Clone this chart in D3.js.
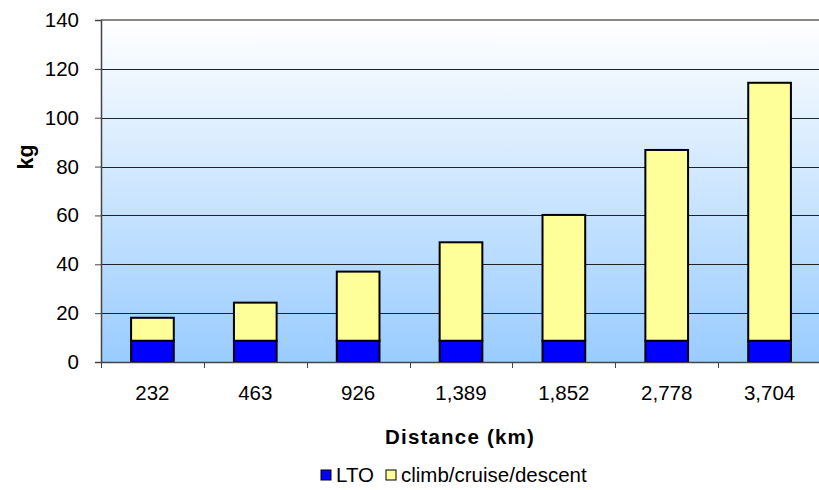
<!DOCTYPE html>
<html><head><meta charset="utf-8">
<script src="https://cdn.jsdelivr.net/npm/d3@7"></script>
<style>body{margin:0;background:#fff}svg{display:block;font-family:Arial,"Liberation Sans",sans-serif}</style>
</head><body><svg id="c" width="819" height="490"></svg>
<script>
const categories = ["232","463","926","1,389","1,852","2,778","3,704"];
const lto = [8.7, 8.7, 8.7, 8.7, 8.7, 8.7, 8.7];
const climb = [9.4, 15.6, 28.3, 40.3, 51.5, 78.1, 105.6];
const yTicks = [0,20,40,60,80,100,120,140];
const seriesNames = ["LTO","climb/cruise/descent"];
const colors = ["#0000ff","#ffff99"];

const svg = d3.select("#c");
const L = 101, R = 821, T = 20, B = 362;
const FS = 20.5;
const x = d3.scaleBand().domain(categories).range([L, R]).paddingInner(0.585).paddingOuter(0.2925);
const xb = d3.scaleBand().domain(categories).range([L, R]);
const y = d3.scaleLinear().domain([0,140]).range([B, T]);

const defs = svg.append("defs");
const g = defs.append("linearGradient").attr("id","bg").attr("x1",0).attr("y1",0).attr("x2",0).attr("y2",1);
g.append("stop").attr("offset","0%").attr("stop-color","#ffffff");
g.append("stop").attr("offset","100%").attr("stop-color","#99ccff");
svg.append("rect").attr("x",L).attr("y",T).attr("width",R-L).attr("height",B-T).attr("fill","url(#bg)");

// gridlines
svg.append("g").selectAll("line").data(yTicks.filter(d=>d>0 && d<140)).join("line")
  .attr("x1",L).attr("x2",R).attr("y1",d=>Math.round(y(d))+0.5).attr("y2",d=>Math.round(y(d))+0.5)
  .attr("stroke","#222").attr("stroke-width",1);
svg.append("line").attr("x1",L).attr("x2",R).attr("y1",T).attr("y2",T).attr("stroke","#888").attr("stroke-width",2);

// y axis
const ya = svg.append("g").attr("transform",`translate(${L},0)`)
  .call(d3.axisLeft(y).tickValues(yTicks).tickSize(6).tickPadding(16));
ya.select(".domain").attr("stroke","#444").attr("stroke-width",1.5);
ya.selectAll(".tick line").attr("stroke","#444");
ya.selectAll("text").attr("font-size",FS).attr("fill","#000").attr("font-family","Arial, 'Liberation Sans', sans-serif");

// bars
const data = categories.map((c,i)=>({cat:c, LTO:lto[i], "climb/cruise/descent":climb[i]}));
const stacked = d3.stack().keys(seriesNames)(data);
svg.append("g").selectAll("g").data(stacked).join("g").attr("fill",(d,i)=>colors[i])
  .selectAll("rect").data(d=>d).join("rect")
  .attr("x",d=>x(d.data.cat)).attr("width",x.bandwidth())
  .attr("y",d=>y(d[1])).attr("height",d=>y(d[0])-y(d[1]))
  .attr("stroke","#000").attr("stroke-width",2);

// x axis
const xa = svg.append("g").attr("transform",`translate(0,${B})`)
  .call(d3.axisBottom(xb).tickSize(0).tickPadding(23));
xa.select(".domain").attr("stroke","#444").attr("stroke-width",1.5);
xa.selectAll("text").attr("font-size",FS).attr("fill","#000").attr("font-family","Arial, 'Liberation Sans', sans-serif");
svg.append("g").selectAll("line").data(categories).join("line")
  .attr("x1",d=>Math.round(xb(d))+0.5).attr("x2",d=>Math.round(xb(d))+0.5)
  .attr("y1",B).attr("y2",B+6).attr("stroke","#444");

// titles
svg.append("text").attr("x",(L+R)/2-1).attr("y",444).attr("text-anchor","middle")
  .attr("font-size",FS).attr("font-weight","bold").attr("letter-spacing",1.2).text("Distance (km)");
svg.append("text").attr("transform","translate(33,157) rotate(-90)").attr("text-anchor","middle")
  .attr("font-size",FS+1).attr("font-weight","bold").text("kg");

// legend
const leg = svg.append("g");
const lx = [321, 386];
seriesNames.forEach((n,i)=>{
  leg.append("rect").attr("x",lx[i]).attr("y",470).attr("width",10).attr("height",10)
    .attr("fill",colors[i]).attr("stroke","#000").attr("stroke-width",1);
  leg.append("text").attr("x",lx[i]+15).attr("y",482).attr("font-size",FS).text(n);
});
</script></body></html>
